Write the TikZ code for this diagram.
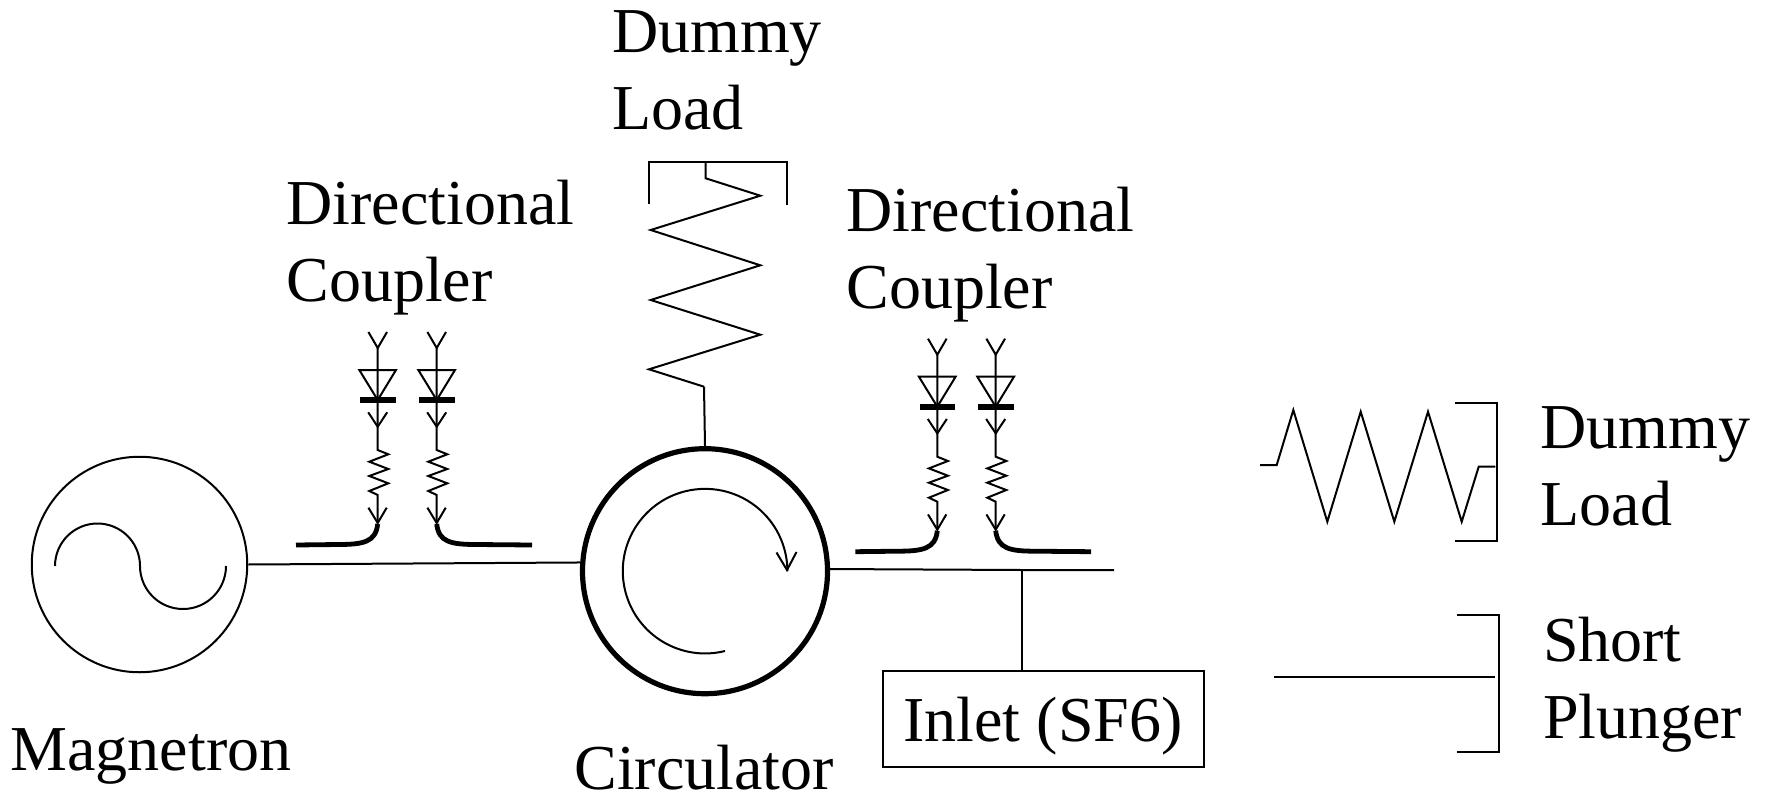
\documentclass[tikz,border=0pt]{standalone}
\usepackage{fontspec}
\setmainfont{Liberation Serif}
\tikzset{
  wire/.style={line width=2pt,line join=miter},
  lbl/.style={anchor=base west,inner sep=0pt,outer sep=0pt,align=left,
    font=\fontsize{64}{76.6}\selectfont},
  barthick/.style={line width=6pt},
  guide/.style={line width=4.8pt,line cap=butt},
  pics/probe/.style n args={2}{code={
    \draw[wire] (-9.3,0) -- (0,16) -- (9.3,0);
    \draw[wire] (0,16) -- (0,118) -- (10.6,122.3) -- (-8.4,129.7) -- (10.6,137) -- (-8.4,144) -- (10.6,151.3) -- (-8.4,159) -- (0,163) -- (0,191);
    \draw[wire] (-18.4,38) -- (18.3,38) -- (0,68) -- cycle;
    \draw[barthick] (-17.7,68) -- (18,68);
    \draw[wire] (-9.5,80.3) -- (0,94.7) -- (9.5,80.3);
    \draw[wire] (-9.3,175.7) -- (0,191) -- (9,175.7);
    \draw[guide] (0,192) .. controls (#1*2,210) and (#1*14,212.5) .. (#1*40,212.5) -- (#2,213);
  }},
}
\begin{document}
\begin{tikzpicture}[x=1pt,y=-1pt]
\useasboundingbox (0,0) rectangle (1768,791.5);
% main elements
\node[draw,circle,line width=2pt,minimum size=215.5pt,inner sep=0pt] (mag) at (139.5,564.5) {};
\node[draw,circle,line width=5.2pt,minimum size=245pt,inner sep=0pt] (circ) at (705,571.2) {};
\node[draw,rectangle,line width=2pt,inner sep=0pt,minimum width=321pt,minimum height=96.6pt] (inlet) at (1043.8,719) {};
\coordinate (tee) at (1021.6,570);
\coordinate (busend) at (1114,570);
\coordinate (loadfoot) at (704,386.7);
% connectors
\draw[wire] (mag.east) -- (circ.176.8);
\draw[wire] (circ.1.5) -- (tee) -- (busend);
\draw[wire] (tee) -- (inlet.north -| tee);
\draw[wire] (circ.north) -- (loadfoot);
% sine in magnetron
\draw[wire] (55,566) arc[start angle=180,end angle=360,radius=42.5]
            arc[start angle=180,end angle=0,radius=43];
% circulator arrow
\draw[wire] (725,651) arc[start angle=76,end angle=360,radius=82.3];
\draw[wire] (776.5,552.5) -- (787,570) -- (796.5,552);
% vertical dummy load
\draw[wire] (649,204) -- (649,162) -- (786.7,162) -- (786.7,204.7);
\draw[wire] (705.7,162) -- (705.7,178.3) -- (760.3,195.7) -- (650.7,230) -- (760.3,265.3) -- (650.7,300) -- (760.3,334.7) -- (649,369.3) -- (loadfoot);
% couplers
\pic at (377.7,332) {probe={-1}{-81.7}};
\pic at (436.7,332) {probe={1}{95.3}};
\pic at (937.3,338.7) {probe={-1}{-82}};
\pic at (995.7,338.7) {probe={1}{95.3}};
% legend
\draw[wire] (1260,465) -- (1276.7,465) -- (1293.3,410) -- (1327.3,521.7) -- (1360.7,411.7) -- (1394.3,521.7) -- (1428,411.7) -- (1461.7,521.7) -- (1478.7,466.7) -- (1495.3,466.7);
\draw[wire] (1455,403.3) -- (1497.3,403.3) -- (1497.3,540.7) -- (1455,540.7);
\draw[wire] (1456.7,615) -- (1499,615) -- (1499,752.3) -- (1456.7,752.3);
\draw[wire] (1274.3,677) -- (1495.3,677);
% labels
\node[lbl] (l1) at (612,129.3) {Dummy\\Load};
\node[lbl] (l2) at (286.5,301) {Directional\\Coupler};
\node[lbl] (l3) at (846.5,308) {Directional\\Coupler};
\node[lbl] (l4) at (1540.5,525.5) {Dummy\\Load};
\node[lbl] (l5) at (1543,738) {Short\\Plunger};
\node[lbl] (l6) at (10.5,770) {Magnetron};
\node[lbl] (l7) at (574.5,789.5) {Circulator};
\node[lbl] (l8) at (1043,741.7) [anchor=base] {Inlet (SF6)};
\end{tikzpicture}
\end{document}
